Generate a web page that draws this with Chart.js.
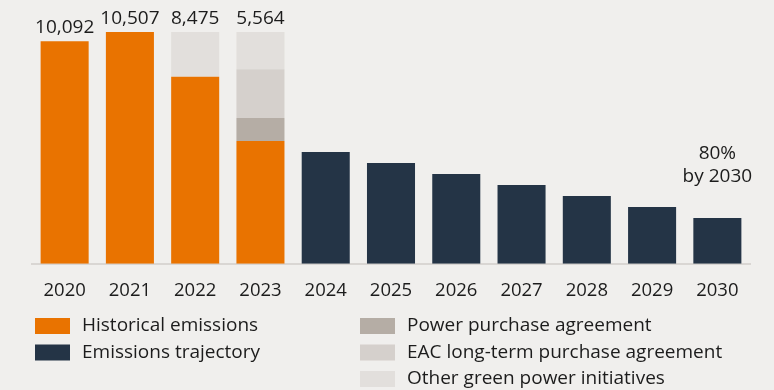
<!DOCTYPE html>
<html>
<head>
<meta charset="utf-8">
<script src="https://cdn.jsdelivr.net/npm/chart.js@4"></script>
<style>
  html, body { margin: 0; padding: 0; background: #f0efed; }
  #wrap { width: 774px; height: 390px; position: relative; }
</style>
</head>
<body>
<div id="wrap"><canvas id="emissionsChart" width="774" height="390"></canvas></div>
<script>
// datos
const years = ['2020', '2021', '2022', '2023', '2024', '2025', '2026', '2027', '2028', '2029', '2030'];
const historical = [10092, 10507, 8475, 5564, null, null, null, null, null, null, null];
const trajectory = [null, null, null, null, 5066, 4568, 4071, 3573, 3076, 2578, 2081];
const ppa = [null, null, null, 1040, null, null, null, null, null, null, null];
const eacLongTerm = [null, null, null, 2216, null, null, null, null, null, null, null];
const otherGreen = [null, null, 2032, 1687, null, null, null, null, null, null, null];
const seriesNames = ['Historical emissions', 'Emissions trajectory', 'Power purchase agreement',
    'EAC long-term purchase agreement', 'Other green power initiatives'];
const targetNote = ['80%', 'by 2030'];

const colors = ['#e97300', '#243446', '#b5ada5', '#d5d0cc', '#e2dfdc'];
const fontFamily = '"Open Sans", "Noto Sans", sans-serif';
const textColor = '#1c1c1c';

// etiquetas encima de las barras históricas
const topLabels = {
    id: 'topLabels',
    afterDatasetsDraw(chart) {
        const ctx = chart.ctx;
        ctx.save();
        ctx.font = '19px ' + fontFamily;
        ctx.fillStyle = textColor;
        ctx.textAlign = 'center';
        ctx.textBaseline = 'alphabetic';
        historical.forEach((v, i) => {
            if (v == null) return;
            let top = Infinity, x = 0;
            chart.data.datasets.forEach((ds, d) => {
                if (ds.data[i] == null) return;
                const bar = chart.getDatasetMeta(d).data[i];
                if (bar.y < top) { top = bar.y; x = bar.x; }
            });
            ctx.fillText(v.toLocaleString('en-US'), x, top - 8);
        });
        // nota del objetivo 2030
        const last = years.length - 1;
        const bar = chart.getDatasetMeta(1).data[last];
        ctx.font = '19px ' + fontFamily;
        ctx.textBaseline = 'middle';
        ctx.fillText(targetNote[0], bar.x, bar.y - 64);
        ctx.fillText(targetNote[1], bar.x, bar.y - 41);
        ctx.restore();
    }
};

// leyenda en dos columnas
const twoColLegend = {
    id: 'twoColLegend',
    afterDraw(chart) {
        const ctx = chart.ctx;
        const cols = [{ x: 35, items: [0, 1] }, { x: 360, items: [2, 3, 4] }];
        ctx.save();
        ctx.font = '19px ' + fontFamily;
        ctx.textBaseline = 'middle';
        ctx.textAlign = 'left';
        cols.forEach(col => {
            col.items.forEach((d, r) => {
                const y = 326 + r * 26.5;
                ctx.fillStyle = chart.data.datasets[d].backgroundColor;
                ctx.fillRect(col.x, y - 8, 35, 16);
                ctx.fillStyle = textColor;
                ctx.fillText(chart.data.datasets[d].label, col.x + 47, y);
            });
        });
        ctx.restore();
    }
};

const seriesData = [historical, trajectory, ppa, eacLongTerm, otherGreen];

new Chart(document.getElementById('emissionsChart').getContext('2d'), {
    type: 'bar',
    data: {
        labels: years,
        datasets: seriesData.map((d, i) => ({
            label: seriesNames[i],
            data: d,
            backgroundColor: colors[i],
            borderWidth: 0,
            barPercentage: 1,
            categoryPercentage: 0.736,
            stack: 'total'
        }))
    },
    options: {
        responsive: false,
        animation: false,
        layout: { padding: { left: 32, right: 24, top: 32, bottom: 72 } },
        plugins: {
            legend: { display: false },
            tooltip: { enabled: false }
        },
        scales: {
            x: {
                stacked: true,
                grid: { display: false, drawTicks: false },
                border: { display: true, color: '#d9d6d3', width: 2 },
                ticks: { color: textColor, font: { family: fontFamily, size: 18.5 }, padding: 16 }
            },
            y: {
                stacked: true,
                display: false,
                min: 0,
                max: 10507
            }
        }
    },
    plugins: [topLabels, twoColLegend]
});
</script>
</body>
</html>
